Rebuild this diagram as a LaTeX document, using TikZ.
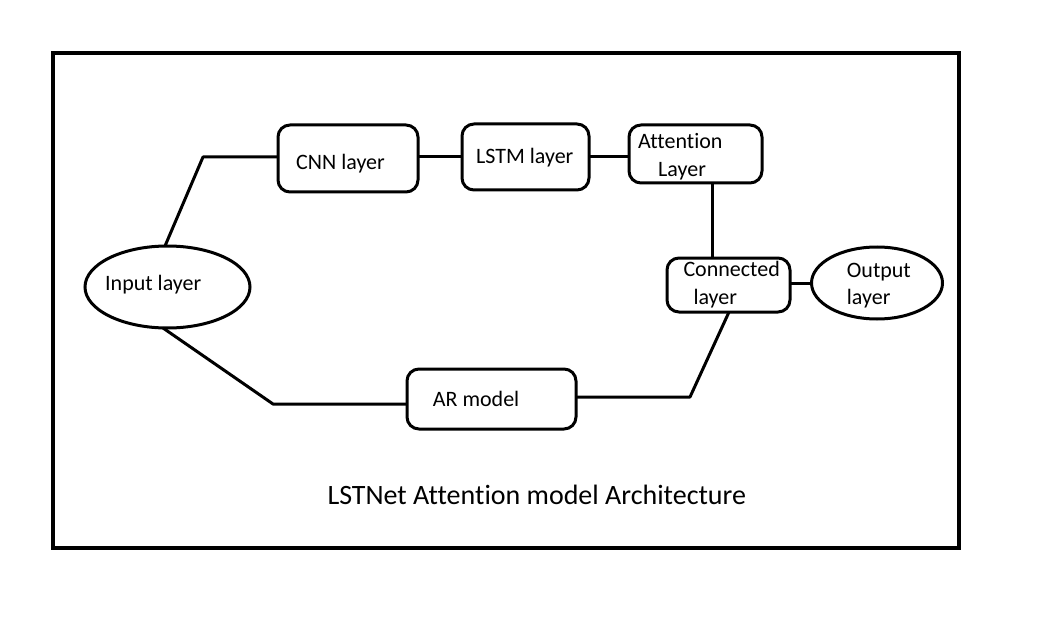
\documentclass[tikz,border=0pt]{standalone}
\usepackage{fontspec}
\setmainfont[Ligatures={NoCommon}]{Carlito}
\usetikzlibrary{shapes.geometric}
\begin{document}
\begin{tikzpicture}[x=1pt,y=-1pt,
  box/.style={draw,line width=3pt,rounded corners=12pt,inner sep=0pt,outer sep=0pt},
  oval/.style={draw,ellipse,line width=3pt,inner sep=0pt,outer sep=0pt},
  lbl/.style={anchor=base west,inner sep=0pt,font=\fontsize{22}{26}\selectfont},
  wire/.style={line width=3pt,line join=round}]
\useasboundingbox (0,0) rectangle (1059,636);
\node[draw,line width=4.5pt,minimum width=906pt,minimum height=495pt,inner sep=0pt] (frame) at (506,300.5) {};
% shapes
\node[oval,minimum width=165pt,minimum height=82pt] (input) at (167.5,287) {};
\node[box,minimum width=140pt,minimum height=67pt] (cnn) at (348,158.5) {};
\node[box,minimum width=127pt,minimum height=66pt] (lstm) at (525.5,157) {};
\node[box,minimum width=133pt,minimum height=58pt] (attn) at (695.5,154) {};
\node[box,minimum width=123pt,minimum height=54pt] (conn) at (728.5,285) {};
\node[oval,minimum width=131pt,minimum height=72pt] (output) at (877,283) {};
\node[box,minimum width=169pt,minimum height=60pt] (ar) at (491.5,399) {};
% texts
\node[lbl] (tinput) at (105,290) {Input layer};
\node[lbl] (tcnn) at (296,170) {CNN layer};
\node[lbl] (tlstm) at (476,163.3) {LSTM layer};
\node[lbl] (tattn1) at (638,148.3) {Attention};
\node[lbl] (tattn2) at (658,176.7) {Layer};
\node[lbl] (tconn1) at (683.3,276.7) {Connected};
\node[lbl] (tconn2) at (693.3,304) {layer};
\node[lbl] (tout1) at (846.7,277.3) {Output};
\node[lbl] (tout2) at (846.7,304) {layer};
\node[lbl] (tar) at (432.7,406) {AR model};
\node[anchor=base west,inner sep=0pt,font=\fontsize{28}{32}\selectfont] (title) at (327.3,504) {LSTNet Attention model Architecture};
% connectors
\coordinate (k1) at (203,157);
\coordinate (k2) at (273,404);
\coordinate (k3) at (690,397);
\draw[wire] (input.north -| 165,0) -- (k1) -- (cnn.west |- k1);
\draw[wire] (cnn.east |- 0,157) -- (lstm.west |- 0,157);
\draw[wire] (lstm.east |- 0,157) -- (attn.west |- 0,157);
\draw[wire] (attn.south -| 712,0) -- (conn.north -| 712,0);
\draw[wire] (conn.east |- 0,283) -- (output.west |- 0,283);
\draw[wire] (163,328) -- (k2) -- (ar.west |- k2);
\draw[wire] (ar.east |- k3) -- (k3) -- (conn.south -| 729,0);
\end{tikzpicture}
\end{document}
